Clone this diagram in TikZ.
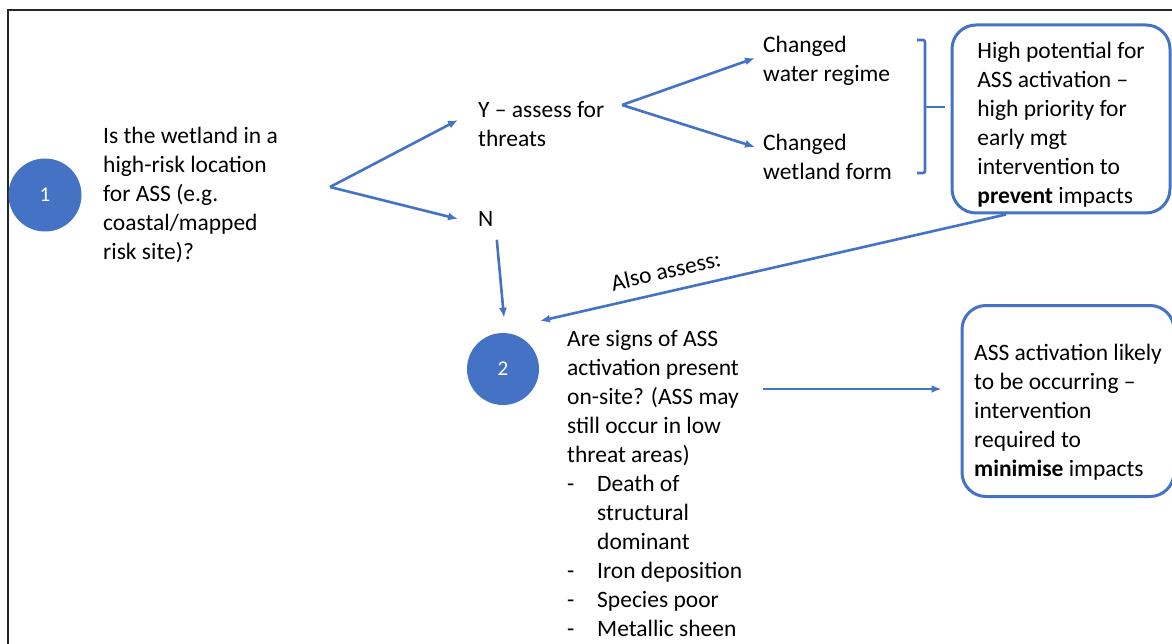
\documentclass[tikz,border=0pt]{standalone}
\usepackage{fontspec}
\setmainfont{Carlito}
\usepackage{tikz}
\usetikzlibrary{positioning, calc, arrows.meta}
\definecolor{OfficeBlue}{RGB}{68,114,196}
\newcommand{\dashitem}[1]{\makebox[30pt][l]{-}#1}
\newcommand{\topgap}[1]{\rule{0pt}{#1}}
\tikzset{
    stepnum/.style={
        circle, fill=OfficeBlue, text=white, minimum size=73pt, inner sep=0pt,
        font=\fontsize{21}{24}\selectfont
    },
    txt/.style={
        align=left, inner sep=0pt, anchor=west,
        font=\fontsize{23.5}{29}\selectfont
    },
    outcome/.style={
        draw=OfficeBlue, line width=3pt, rounded corners=24pt, align=left,
        font=\fontsize{23.5}{29}\selectfont
    },
    flow/.style={
        -{Latex[length=10pt,width=8pt]}, line width=2.6pt, OfficeBlue
    },
    plainline/.style={
        line width=2.6pt, OfficeBlue
    }
}

\begin{document}
\begin{tikzpicture}[x=1pt, y=-1pt]
    \useasboundingbox (0,0) rectangle (1172,644);

    % --- KHUNG ---
    \draw[line width=2pt, black!85] (1172,10) -- (8,10) -- (8,644);

    % --- BUOC 1 ---
    \node[stepnum] (c1) at (45,195) {1};
    \node[txt] (q1) at (103,195) {Is the wetland in a\\high-risk location\\for ASS (e.g.\\coastal/mapped\\risk site)?};
    \coordinate (fork1) at (330,187);
    \node[txt] (yes) at (478,124) {Y – assess for\\threats};
    \node[txt] (no) at (478,219) {N};
    \coordinate (fork2) at (622,105);
    \node[txt] (water) at (763,61) {Changed\\water regime};
    \node[txt] (form) at (763,157) {Changed\\wetland form};
    \node[outcome, minimum width=218pt, minimum height=188pt] (high) at (1061,119)
        {\topgap{28pt}High potential for\\ASS activation –\\high priority for\\early mgt\\intervention to\\\textbf{prevent} impacts};

    % --- BUOC 2 ---
    \node[stepnum, minimum size=72pt] (c2) at (503,369) {2};
    \node[txt] (q2) at (567,483) {Are signs of ASS\\activation present\\on-site? (ASS may\\still occur in low\\threat areas)\\\dashitem{Death of}\\\hspace*{30pt}structural\\\hspace*{30pt}dominant\\\dashitem{Iron deposition}\\\dashitem{Species poor}\\\dashitem{Metallic sheen}};
    \coordinate (sig) at (763,389);
    \coordinate (assess) at (540,321);
    \node[outcome, minimum width=212pt, minimum height=191pt] (likely) at (1068,401)
        {\topgap{38pt}ASS activation likely\\to be occurring –\\intervention\\required to\\\textbf{minimise} impacts};

    % --- MUI TEN ---
    \draw[flow] (fork1) -- ([xshift=-20pt,yshift=4pt]yes.west);
    \draw[flow] (fork1) -- ([xshift=-20pt]no.west);
    \draw[flow] (fork2) -- ([xshift=-8pt,yshift=3pt]water.west);
    \draw[flow] (fork2) -- ([xshift=-8pt,yshift=10pt]form.west);
    \draw[plainline, rounded corners=2pt] (917,40) -- (925,40) -- (925,173) -- (917,173);
    \draw[plainline] (925,107) -- (945,107);
    \draw[flow] ($(no.south)+(11,13)$) -- ($(c2.north)+(1,-15)$);
    \draw[flow] (high.240) -- node[sloped, above=8pt, pos=0.72, text=black, font=\fontsize{23.5}{29}\selectfont] {Also assess:} (assess);
    \draw[flow, shorten >=19pt] (sig) -- (sig -| likely.west);
\end{tikzpicture}
\end{document}
